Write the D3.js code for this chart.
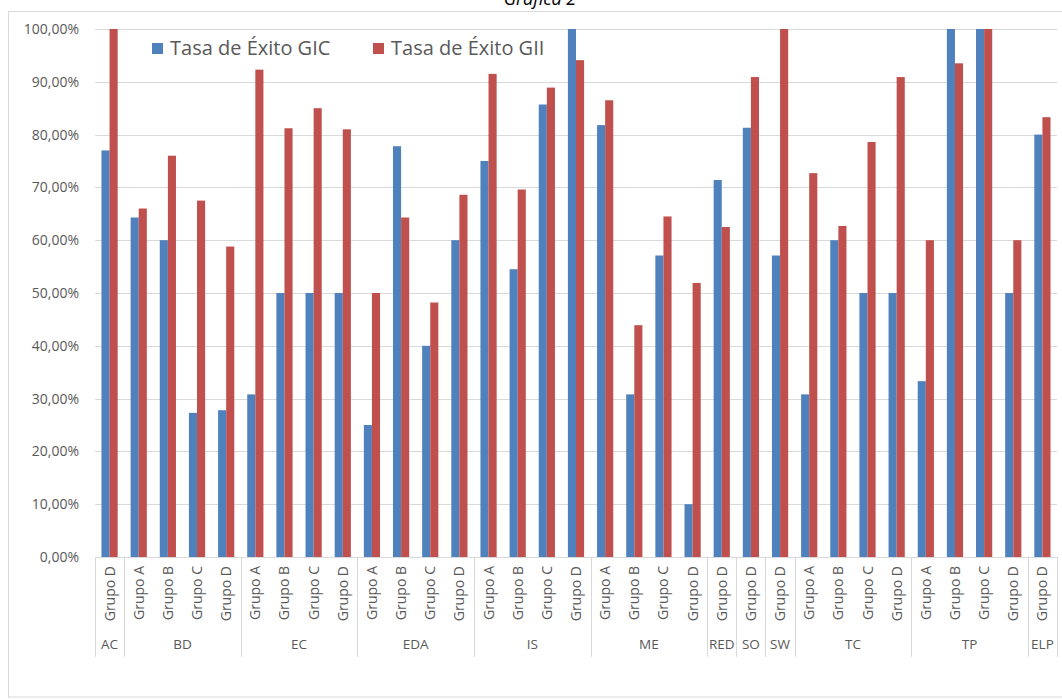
<!DOCTYPE html>
<html>
<head>
<meta charset="utf-8">
<script src="https://cdn.jsdelivr.net/npm/d3@7"></script>
<style>
  body { margin: 0; background: #fff; }
  svg { display: block; }
</style>
</head>
<body>
<svg id="chart" width="1062" height="700"></svg>
<script>
// ---- Data ----
const subjects = ["AC","BD","BD","BD","BD","EC","EC","EC","EC","EDA","EDA","EDA","EDA","IS","IS","IS","IS","ME","ME","ME","ME","RED","SO","SW","TC","TC","TC","TC","TP","TP","TP","TP","ELP"];
const groups   = ["Grupo D","Grupo A","Grupo B","Grupo C","Grupo D","Grupo A","Grupo B","Grupo C","Grupo D","Grupo A","Grupo B","Grupo C","Grupo D","Grupo A","Grupo B","Grupo C","Grupo D","Grupo A","Grupo B","Grupo C","Grupo D","Grupo D","Grupo D","Grupo D","Grupo A","Grupo B","Grupo C","Grupo D","Grupo A","Grupo B","Grupo C","Grupo D","Grupo D"];
const gic = [77.0,64.3,60.0,27.3,27.8,30.8,50.0,50.0,50.0,25.0,77.8,40.0,60.0,75.0,54.5,85.7,100.0,81.8,30.8,57.1,10.0,71.4,81.3,57.1,30.8,60.0,50.0,50.0,33.3,100.0,100.0,50.0,80.0];
const gii = [100.0,66.0,76.0,67.5,58.8,92.3,81.2,85.0,81.0,50.0,64.3,48.2,68.6,91.5,69.6,88.9,94.1,86.5,43.9,64.5,51.9,62.5,90.9,100.0,72.7,62.7,78.6,90.9,60.0,93.5,100.0,60.0,83.3];
const seriesNames = ["Tasa de Éxito GIC","Tasa de Éxito GII"];
const yTicks = [0,10,20,30,40,50,60,70,80,90,100];
const title = "Gráfica 2";

// ---- Layout ----
const colors = ["#4F81BD","#C0504D"];
const pLeft = 95, pRight = 1057, pTop = 29, pBottom = 557;
const font = "'Open Sans', 'Noto Sans', sans-serif";
const textColor = "#595959";
const gridColor = "#d9d9d9";

const svg = d3.select("#chart");

// chart area border
svg.append("rect").attr("x", 8.5).attr("y", 11.5).attr("width", 1070).attr("height", 685.5)
  .attr("fill", "none").attr("stroke", "#d9d9d9");

// title (partly cut off at top as in reference)
svg.append("text").attr("x", 540).attr("y", 5).attr("text-anchor", "middle")
  .attr("font-family", font).attr("font-style", "italic").attr("font-size", 18)
  .attr("fill", "#000").text(title);

const idx = d3.range(subjects.length);
const x = d3.scaleBand().domain(idx).range([pLeft, pRight]).paddingInner(0).paddingOuter(0);
const y = d3.scaleLinear().domain([0, 100]).range([pBottom, pTop]);
const cw = x.bandwidth();
const barW = cw / 3.6;
const xs = d3.scaleBand().domain([0,1]).range([cw/2 - barW, cw/2 + barW]);

// gridlines
svg.append("g").selectAll("line").data(yTicks).join("line")
  .attr("x1", pLeft).attr("x2", pRight)
  .attr("y1", d => Math.round(y(d)) + 0.5).attr("y2", d => Math.round(y(d)) + 0.5)
  .attr("stroke", gridColor).attr("stroke-width", 1);

// y axis labels
const yAxis = d3.axisLeft(y).tickValues(yTicks).tickSize(0).tickPadding(0)
  .tickFormat(d => d3.format(".2f")(d).replace(".", ",") + "%");
const yg = svg.append("g").attr("transform", `translate(79,0)`).call(yAxis);
yg.select(".domain").remove();
yg.selectAll("text").attr("font-family", font).attr("font-size", 14).attr("fill", textColor);

// bars
const data = idx.map(i => ({i, vals: [gic[i], gii[i]]}));
const cat = svg.append("g").selectAll("g").data(data).join("g")
  .attr("transform", d => `translate(${x(d.i)},0)`);
cat.selectAll("rect").data(d => d.vals.map((v, s) => ({v, s}))).join("rect")
  .attr("x", d => xs(d.s)).attr("width", xs.bandwidth())
  .attr("y", d => y(d.v)).attr("height", d => y(0) - y(d.v))
  .attr("fill", d => colors[d.s]);

// category (Grupo) labels
svg.append("g").selectAll("text").data(idx).join("text")
  .attr("transform", i => `translate(${x(i) + cw/2 + 5},566) rotate(-90)`)
  .attr("text-anchor", "end")
  .attr("font-family", font).attr("font-size", 14).attr("fill", textColor)
  .text(i => groups[i]);

// subject groups
const spans = [];
subjects.forEach((s, i) => {
  if (spans.length && spans[spans.length - 1].name === s) spans[spans.length - 1].end = i;
  else spans.push({name: s, start: i, end: i});
});
const sepX = [pLeft].concat(spans.map(sp => x(sp.end) + cw));
svg.append("g").selectAll("line").data(sepX).join("line")
  .attr("x1", d => Math.round(d) + 0.5).attr("x2", d => Math.round(d) + 0.5)
  .attr("y1", pBottom).attr("y2", 657)
  .attr("stroke", gridColor);
svg.append("g").selectAll("text").data(spans).join("text")
  .attr("x", sp => (x(sp.start) + x(sp.end) + cw) / 2)
  .attr("y", 649).attr("text-anchor", "middle")
  .attr("font-family", font).attr("font-size", 13.5).attr("fill", textColor)
  .text(sp => sp.name);

// x axis baseline
svg.append("line").attr("x1", pLeft).attr("x2", pRight)
  .attr("y1", pBottom + 0.5).attr("y2", pBottom + 0.5).attr("stroke", gridColor);

// legend
const legX = [152, 373];
const leg = svg.append("g").selectAll("g").data(seriesNames).join("g")
  .attr("transform", (d, i) => `translate(${legX[i]},43)`);
leg.append("rect").attr("width", 11).attr("height", 11).attr("fill", (d, i) => colors[i]);
leg.append("text").attr("x", 18).attr("y", 12)
  .attr("font-family", font).attr("font-size", 20).attr("fill", textColor)
  .text(d => d);
</script>
</body>
</html>
